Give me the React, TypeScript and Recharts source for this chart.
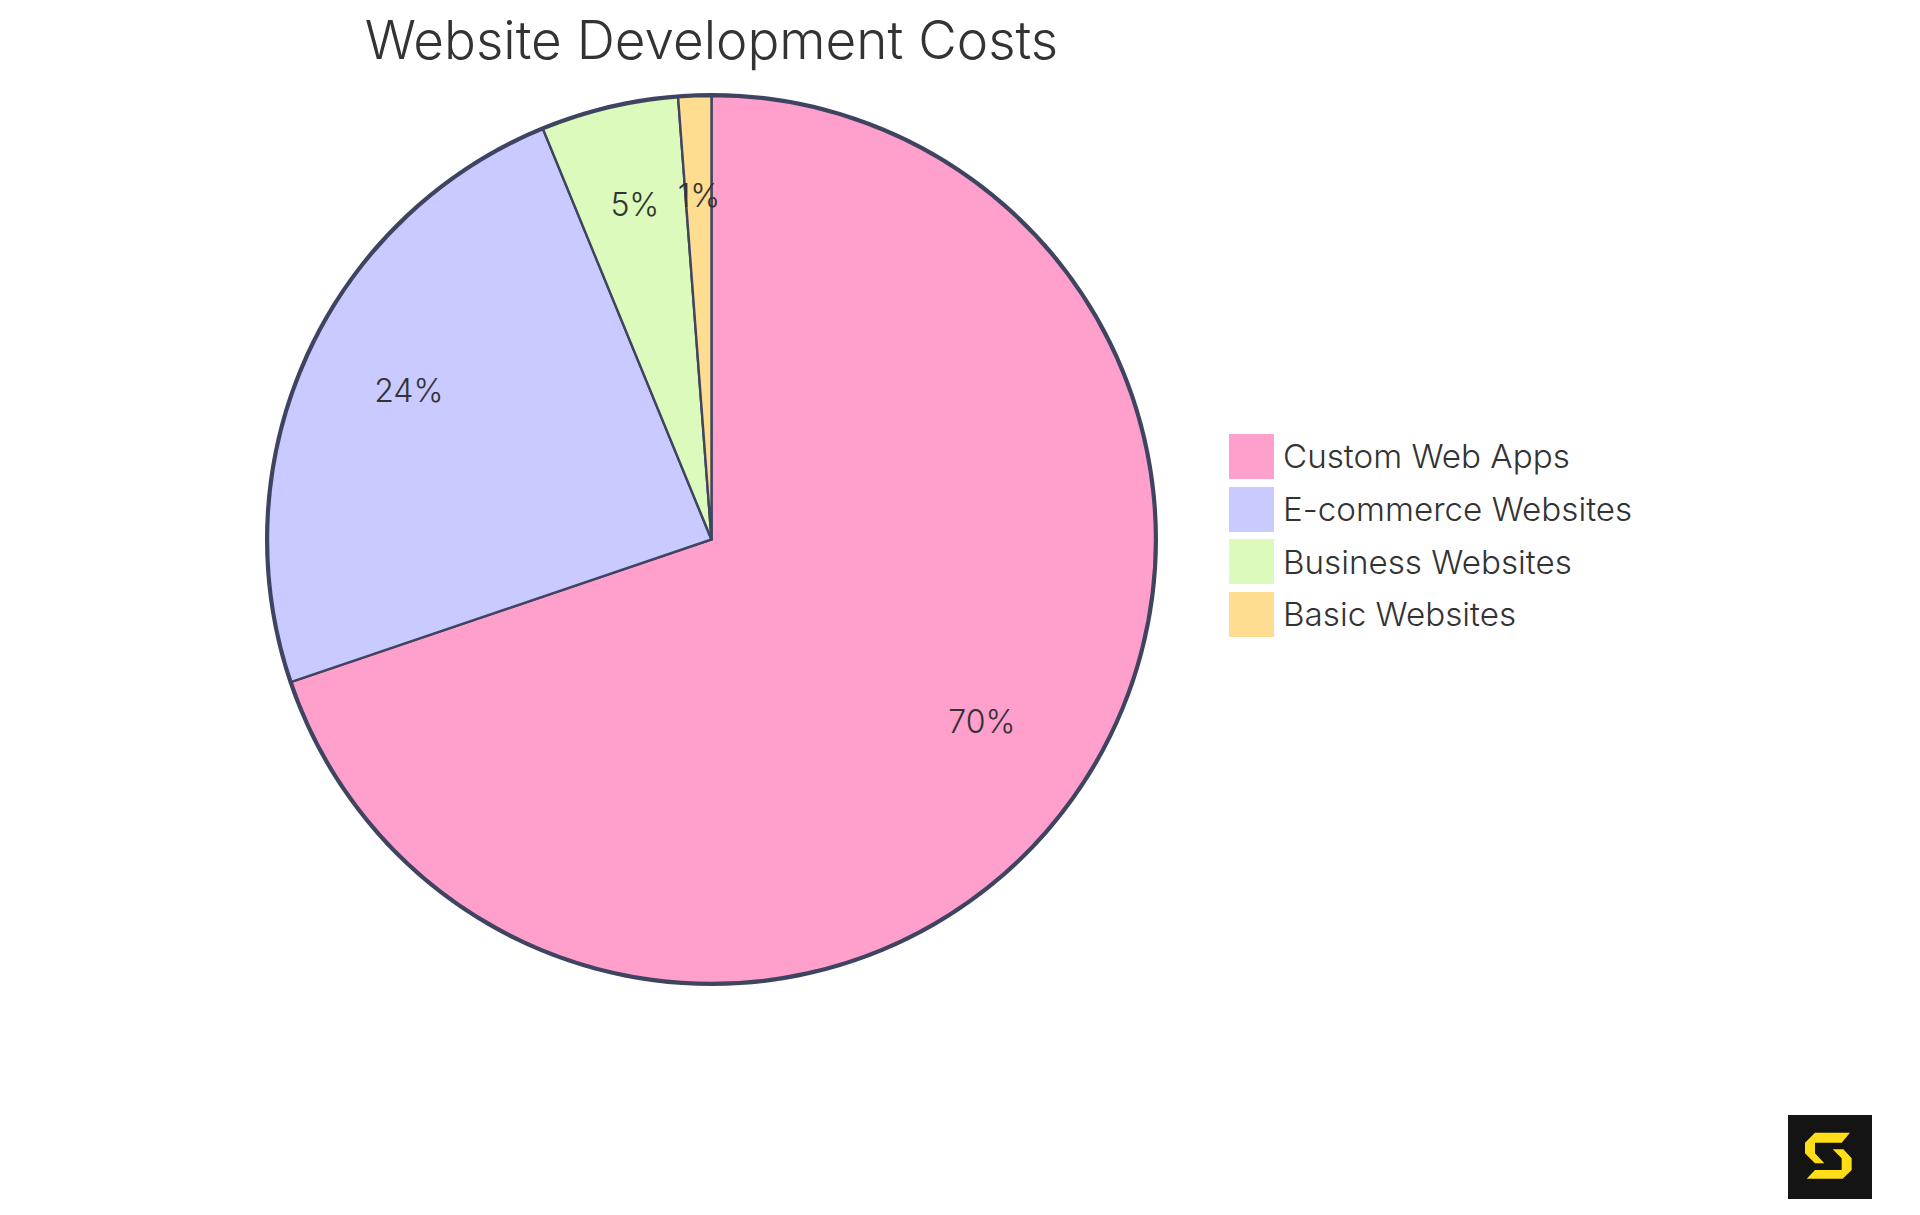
import { PieChart, Pie, Legend } from "recharts";

const CATEGORIES = ["Custom Web Apps", "E-commerce Websites", "Business Websites", "Basic Websites"];
const VALUES = [69.8, 24, 5, 1.2];
const COLORS = ["#ff9fcb", "#c9caff", "#dcfabb", "#ffdd90"];

const STROKE = "#3f4461";
const TEXT = "#333333";
const FONT = "Inter, sans-serif";

const data = CATEGORIES.map((name, i) => ({ name, value: VALUES[i], fill: COLORS[i] }));
const ring = [{ name: "outline", value: 1, fill: STROKE }];

const RADIAN = Math.PI / 180;

// label sits with its baseline on 3/4 of the radius
function renderLabel({ cx, cy, midAngle, outerRadius, percent }: any) {
  const r = outerRadius * 0.75;
  return (
    <text
      x={cx + r * Math.cos(-midAngle * RADIAN)}
      y={cy + r * Math.sin(-midAngle * RADIAN)}
      textAnchor="middle"
      fontFamily={FONT}
      fontSize={32}
      fontWeight={300}
      fill={TEXT}
    >
      {Math.round(percent * 100)}%
    </text>
  );
}

function LegendList({ payload }: any) {
  const rows = (payload ?? []).filter((entry: any) => entry.type !== "none" && entry.value !== "outline");
  return (
    <div>
      {rows.map((entry: any) => (
        <div key={entry.value} style={{ display: "flex", alignItems: "center", height: 52.7 }}>
          <span
            style={{
              width: 45,
              height: 45,
              background: entry.payload?.fill ?? entry.color,
              marginRight: 9,
              flex: "none",
            }}
          />
          <span style={{ fontFamily: FONT, fontSize: 33.2, fontWeight: 300, color: TEXT, whiteSpace: "nowrap" }}>
            {entry.value}
          </span>
        </div>
      ))}
    </div>
  );
}

function Logo() {
  return (
    <svg
      viewBox="84 75 252 252"
      width={84}
      height={84}
      style={{ position: "absolute", left: 1788, top: 1115 }}
    >
      <rect x={84} y={75} width={252} height={252} fill="#141414" />
      <path
        d="M270 128H165L135 158V190L165 220H193L165 190V158H245ZM218 178H250L275 205V240L248 266H140L165 240H245V205Z"
        fill="#ffdd17"
      />
    </svg>
  );
}

export default function App() {
  return (
    <div style={{ position: "absolute", left: 0, top: 0, width: 1920, height: 1215, background: "#fff" }}>
      <PieChart width={1920} height={1215} margin={{ top: 0, right: 0, bottom: 0, left: 0 }}>
        <text x={711.5} y={59} textAnchor="middle" fontFamily={FONT} fontSize={53} fontWeight={300} fill={TEXT}>
          Website Development Costs
        </text>
        <Pie
          data={ring}
          dataKey="value"
          cx={711.5}
          cy={539.5}
          innerRadius={442}
          outerRadius={446.5}
          startAngle={90}
          endAngle={-270}
          stroke="none"
          legendType="none"
          isAnimationActive={false}
        />
        <Pie
          data={data}
          dataKey="value"
          nameKey="name"
          cx={711.5}
          cy={539.5}
          outerRadius={443.5}
          startAngle={90}
          endAngle={-270}
          stroke={STROKE}
          strokeWidth={2.4}
          label={renderLabel}
          labelLine={false}
          isAnimationActive={false}
        />
        <Legend
          layout="vertical"
          align="center"
          verticalAlign="middle"
          itemSorter={null}
          content={<LegendList />}
          wrapperStyle={{ left: 1229, top: 430, width: 500 }}
        />
      </PieChart>
      <Logo />
    </div>
  );
}
